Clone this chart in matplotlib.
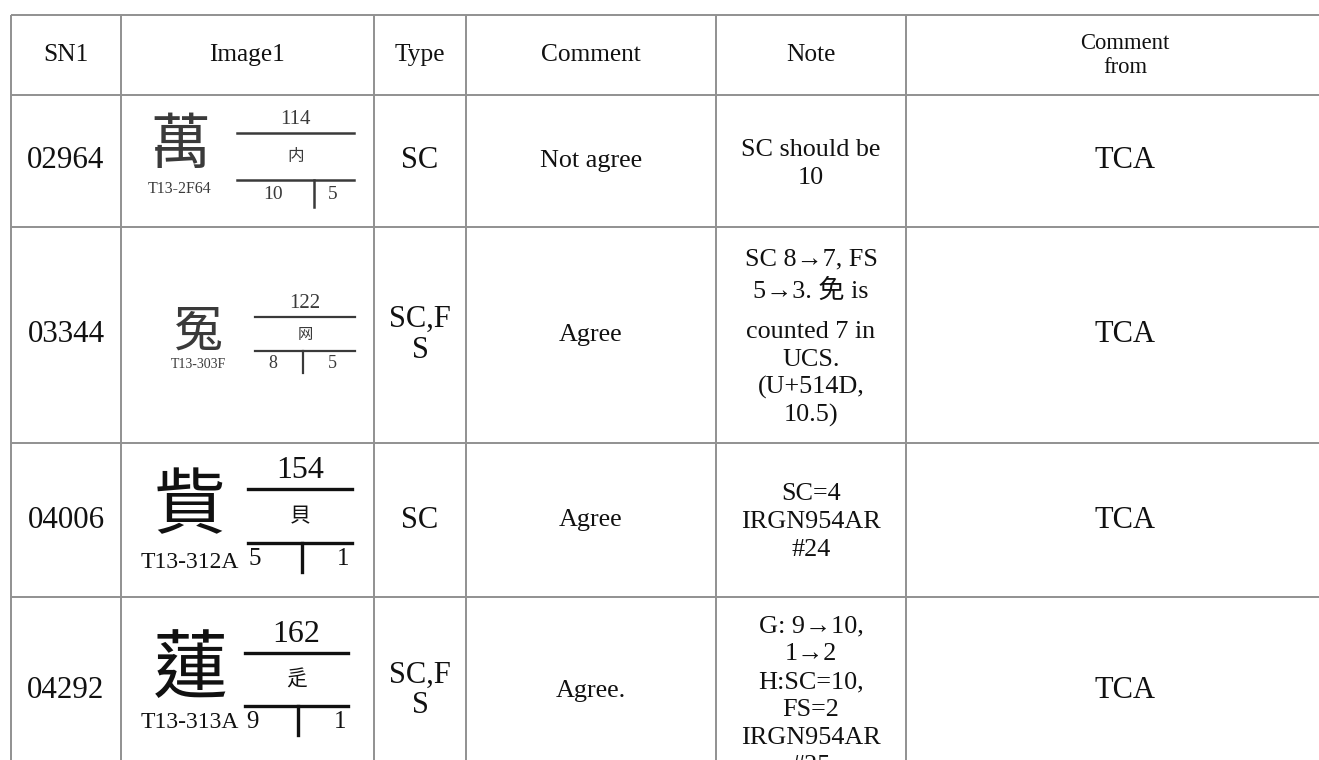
import matplotlib
matplotlib.use("Agg")
import matplotlib.pyplot as plt

plt.rcParams['font.family'] = ['Liberation Serif', 'Noto Sans CJK TC', 'DejaVu Sans']

# ---------------- data ----------------
headers = ['SN1', 'Image1', 'Type', 'Comment', 'Note', 'Comment\nfrom']
sn = ['02964', '03344', '04006', '04292']
types = ['SC', 'SC,F\nS', 'SC', 'SC,F\nS']
comments = ['Not agree', 'Agree', 'Agree', 'Agree.']
notes = [
    'SC should be\n10',
    'SC 8→7, FS\n5→3. 免 is\ncounted 7 in\nUCS.\n(U+514D,\n10.5)',
    'SC=4\nIRGN954AR\n#24',
    'G: 9→10,\n1→2\nH:SC=10,\nFS=2\nIRGN954AR\n#25',
]
comment_from = ['TCA', 'TCA', 'TCA', 'TCA']
glyphs = ['萬', '冤', '貲', '蓮']
glyph_codes = ['T13-2F64', 'T13-303F', 'T13-312A', 'T13-313A']
radical_nums = ['114', '122', '154', '162']
radicals = ['内', '网', '貝', '辵']
first_strokes = ['10', '8', '5', '9']
remain_strokes = ['5', '5', '1', '1']

# ---------------- layout ----------------
W, H = 1319, 760
col_edges = [11, 121, 374, 466, 716, 906, 1344]
row_edges = [15, 95, 227, 443, 597, 784]
grid_color = '#919191'

fig = plt.figure(figsize=(W / 100, H / 100), dpi=100)
ax = fig.add_axes([0, 0, 1, 1])
ax.set_xlim(0, W)
ax.set_ylim(H, 0)
ax.axis('off')

# grid
for y in row_edges[:-1]:
    ax.plot([col_edges[0], W], [y, y], color=grid_color, lw=1.4, solid_capstyle='butt')
for x in col_edges[:-1]:
    ax.plot([x, x], [row_edges[0], H], color=grid_color, lw=1.4, solid_capstyle='butt')

def ccol(i):
    return (col_edges[i] + col_edges[i + 1]) / 2

def crow(i):
    return (row_edges[i] + row_edges[i + 1]) / 2

# header
for j, h in enumerate(headers[:-1]):
    ax.text(ccol(j), crow(0), h, ha='center', va='center', fontsize=18.3, color='#111')
hl = headers[-1].split('\n')
ax.text(ccol(5), 49, hl[0], ha='center', va='baseline', fontsize=16.3, color='#111')
ax.text(ccol(5), 73, hl[1], ha='center', va='baseline', fontsize=16.3, color='#111')

# body text
note_nudge = [0, 0, 0, 3]
for i in range(4):
    yc = crow(i + 1)
    ax.text(ccol(0), yc, sn[i], ha='center', va='center', fontsize=22.3, color='#111')
    ax.text(ccol(2), yc, types[i], ha='center', va='center', fontsize=22, color='#111',
            linespacing=1.08)
    ax.text(ccol(3), yc, comments[i], ha='center', va='center', fontsize=18.8, color='#111')
    ax.text(ccol(5), yc, comment_from[i], ha='center', va='center', fontsize=22, color='#111')

    # notes: line by line with extra room around lines holding CJK glyphs
    lines = notes[i].split('\n')
    pitch = 28.0
    offs = [0.0]
    for k in range(1, len(lines)):
        adv = pitch
        if any(ord(c) > 0x2E80 for c in lines[k]):
            adv += 5
        if any(ord(c) > 0x2E80 for c in lines[k - 1]):
            adv += 12
        offs.append(offs[-1] + adv)
    cap = 17.0
    b0 = yc - (offs[-1] - cap) / 2 + note_nudge[i]
    for k, ln in enumerate(lines):
        ax.text(ccol(4), b0 + offs[k], ln, ha='center', va='baseline', fontsize=18.8,
                color='#111')

# image column: glyph, code, radical block
img_styles = [
    dict(cx=180, cy=147, cfs=43, ky=189, kfs=11.5, lx0=237, lx1=354, l1=133, l2=180,
         nfs=15, rfs=12, sfs=14, fx=273, rx=333, tx=314, tl=27, col='#3a3a3a', lw=1.8),
    dict(cx=198, cy=332, cfs=35, ky=365, kfs=10, lx0=255, lx1=355, l1=317, l2=351,
         nfs=15, rfs=11, sfs=13, fx=273, rx=332, tx=303, tl=22, col='#3a3a3a', lw=1.6),
    dict(cx=190, cy=508, cfs=52, ky=562, kfs=17, lx0=248, lx1=352, l1=489, l2=543,
         nfs=23, rfs=15, sfs=18, fx=255, rx=343, tx=302, tl=29, col='#111111', lw=2.4),
    dict(cx=190, cy=671, cfs=54, ky=723, kfs=17, lx0=245, lx1=348, l1=653, l2=706,
         nfs=23, rfs=15, sfs=18, fx=252, rx=340, tx=298, tl=29, col='#111111', lw=2.4),
]
cjk = ['Noto Sans CJK TC']
for i, s in enumerate(img_styles):
    c = s['col']
    ax.text(s['cx'], s['cy'], glyphs[i], ha='center', va='center', fontsize=s['cfs'],
            family=cjk, color=c, fontweight='light')
    ax.text(s['cx'], s['ky'], glyph_codes[i], ha='center', va='center', fontsize=s['kfs'],
            color=c)
    mx = (s['lx0'] + s['lx1']) / 2
    ax.plot([s['lx0'], s['lx1']], [s['l1'], s['l1']], color=c, lw=s['lw'])
    ax.plot([s['lx0'], s['lx1']], [s['l2'], s['l2']], color=c, lw=s['lw'])
    ax.text(mx, s['l1'] - 4, radical_nums[i], ha='center', va='bottom', fontsize=s['nfs'],
            color=c)
    ax.text(mx, (s['l1'] + s['l2']) / 2, radicals[i], ha='center', va='center',
            fontsize=s['rfs'], family=cjk, color=c, fontweight='light')
    ax.plot([s['tx'], s['tx']], [s['l2'], s['l2'] + s['tl']], color=c, lw=s['lw'])
    sy = s['l2'] + s['tl'] * 0.55
    ax.text(s['fx'], sy, first_strokes[i], ha='center', va='center', fontsize=s['sfs'],
            color=c)
    ax.text(s['rx'], sy, remain_strokes[i], ha='center', va='center', fontsize=s['sfs'],
            color=c)

fig.savefig('out.png', dpi=100, facecolor='white')
